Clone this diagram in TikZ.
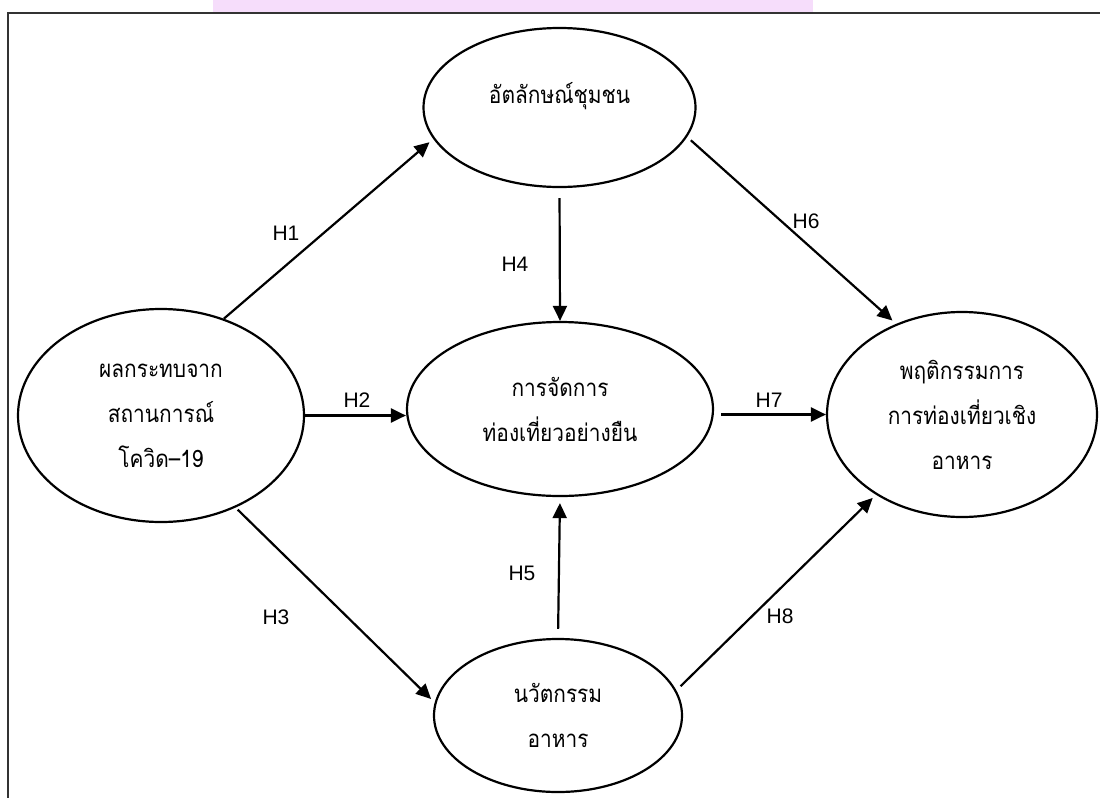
\documentclass[tikz,border=0pt]{standalone}
\usepackage{fontspec}
\setmainfont{Liberation Sans}
\newfontfamily\thaifont[Script=Thai,FakeStretch=0.87]{Loma}
\usetikzlibrary{shapes.geometric,arrows.meta}
\definecolor{pinkband}{RGB}{246,221,251}

\begin{document}
\begin{tikzpicture}[x=1pt,y=-1pt,
ovalnode/.style={ellipse, draw=black, line width=2.2pt, inner sep=0pt, align=center, font=\thaifont\fontsize{24}{45}\selectfont},
hyparrow/.style={-{Triangle[length=15pt,width=14pt]}, line width=2.2pt},
hyplabel/.style={inner sep=0pt, font=\fontsize{21}{24}\selectfont},
]
\useasboundingbox (0,0) rectangle (1100,798);

%Frame
\fill[pinkband] (213,0) rectangle (813,12);
\draw[black!80, line width=1.3pt] (1100,13) -- (8,13) -- (8,798);

%Nodes
\node[ovalnode, minimum width=272pt, minimum height=159pt, text depth=30pt] (identity) at (559.5,107.5) {อัตลักษณ์ชุมชน};
\node[ovalnode, minimum width=286pt, minimum height=213pt] (covid) at (161,415.5) {ผลกระทบจาก\\สถานการณ์\\โควิด–19};
\node[ovalnode, minimum width=306pt, minimum height=174pt] (manage) at (560,409) {การจัดการ\\ท่องเที่ยวอย่างยืน};
\node[ovalnode, minimum width=270pt, minimum height=205pt] (behav) at (962,414.5) {พฤติกรรมการ\\การท่องเที่ยวเชิง\\อาหาร};
\node[ovalnode, minimum width=248pt, minimum height=153pt] (innov) at (558,715.5) {นวัตกรรม\\อาหาร};

\node[hyplabel] (h1) at (286,233) {H1};
\node[hyplabel] (h2) at (357,400) {H2};
\node[hyplabel] (h3) at (276,617) {H3};
\node[hyplabel] (h4) at (515,264) {H4};
\node[hyplabel] (h5) at (522,573) {H5};
\node[hyplabel] (h6) at (806,221) {H6};
\node[hyplabel] (h7) at (769,400) {H7};
\node[hyplabel] (h8) at (780,616) {H8};

%Lines
\draw[hyparrow, shorten >=5pt] (covid.57) -- (identity.194);
\draw[hyparrow] (covid.east) -- (covid.east -| manage.west);
\draw[hyparrow, shorten <=3pt, shorten >=5pt] (covid.-51) -- (innov.174.5);
\draw[hyparrow, shorten <=10pt] (identity.south) -- (manage.north);
\draw[hyparrow, shorten <=9pt, shorten >=6pt] (innov.north) -- (manage.south);
\draw[hyparrow, shorten <=5pt, shorten >=5pt] (identity.-13) -- (behav.126.5);
\draw[hyparrow, shorten <=7pt] (manage.east |- behav.west) -- (behav.west);
\draw[hyparrow, shorten <=6pt, shorten >=4.5pt] (innov.12) -- (behav.223);

\end{tikzpicture}
\end{document}
